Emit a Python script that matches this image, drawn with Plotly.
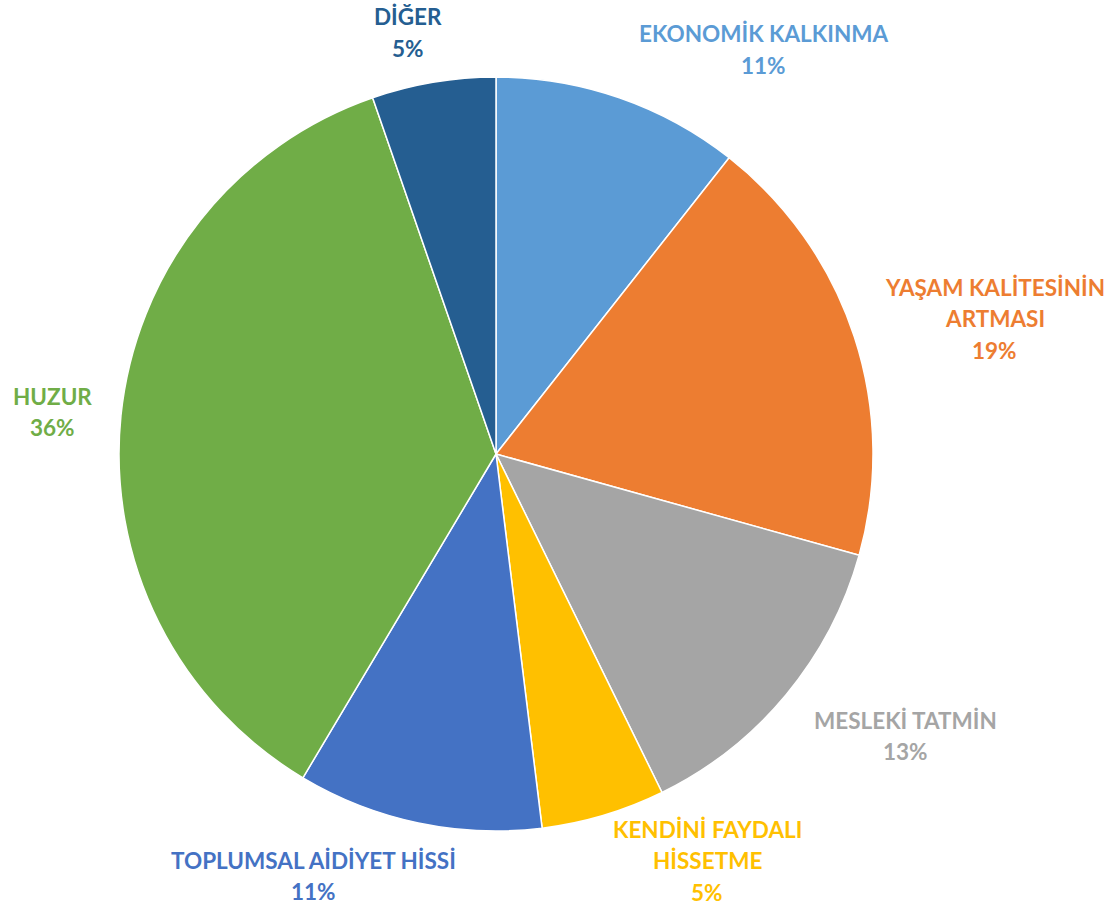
import plotly.graph_objects as go

W, H = 1109, 908

labels = ["EKONOMİK KALKINMA", "YAŞAM KALİTESİNİN ARTMASI", "MESLEKİ TATMİN",
          "KENDİNİ FAYDALI HİSSETME", "TOPLUMSAL AİDİYET HİSSİ", "HUZUR", "DİĞER"]
values = [10.6, 18.7, 13.4, 5.3, 10.5, 36.1, 5.3]
colors = ["#5B9BD5", "#ED7D31", "#A5A5A5", "#FFC000", "#4472C4", "#70AD47", "#255E91"]

# how each label wraps, and where its first line sits (pixels)
label_lines = [["EKONOMİK KALKINMA"], ["YAŞAM KALİTESİNİN", "ARTMASI"], ["MESLEKİ TATMİN"],
               ["KENDİNİ FAYDALI", "HİSSETME"], ["TOPLUMSAL AİDİYET HİSSİ"], ["HUZUR"], ["DİĞER"]]
label_pos = [(763, 34), (995, 287), (905, 720), (707, 829), (313, 860), (52, 396), (408, 17)]
LINE_GAP = 31.5

fig = go.Figure()
fig.add_trace(go.Pie(
    labels=labels,
    values=values,
    sort=False,
    direction="clockwise",
    rotation=0,
    marker=dict(colors=colors, line=dict(color="white", width=1.5)),
    textinfo="none",
    hoverinfo="label+percent",
    showlegend=False,
    domain=dict(x=[119 / W, 873 / W], y=[1 - 831 / H, 1 - 77 / H]),
))

total = sum(values)
for lines, (px, py), v, c in zip(label_lines, label_pos, values, colors):
    rows = lines + [f"{round(100 * v / total)}%"]
    for i, row in enumerate(rows):
        fig.add_annotation(
            x=px / W, y=1 - (py + i * LINE_GAP) / H,
            xref="paper", yref="paper",
            text=row, showarrow=False,
            xanchor="center", yanchor="middle",
            font=dict(family="Lato", size=22.5, color=c, weight="bold"),
        )

fig.update_layout(
    width=W, height=H,
    margin=dict(l=0, r=0, t=0, b=0),
    paper_bgcolor="white",
    plot_bgcolor="white",
)

fig.write_html("out.html", config={"displayModeBar": False},
               post_script="document.body.style.margin='0';")
